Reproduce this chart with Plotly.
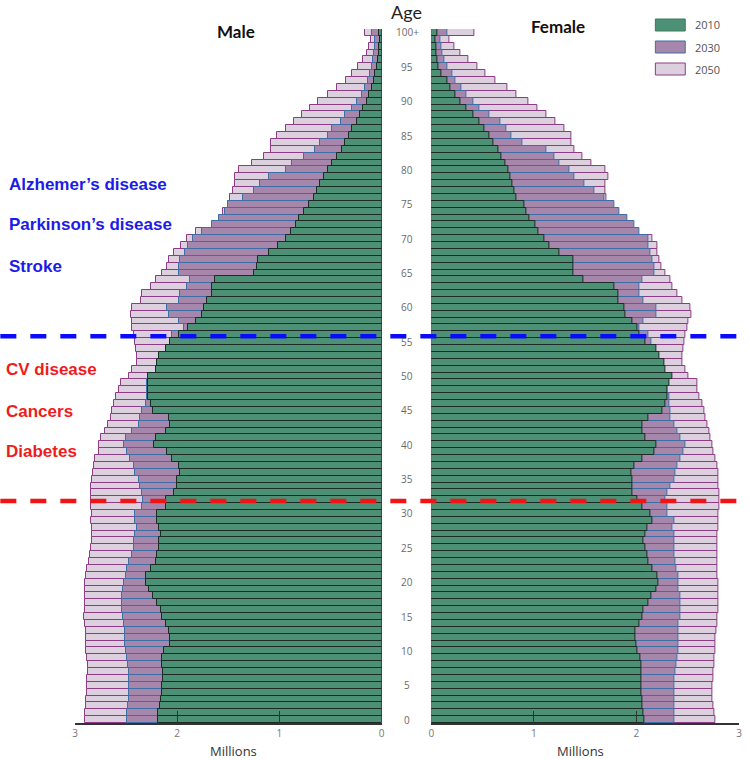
import plotly.graph_objects as go

# ages 0..100 (100 = "100+"), values in millions
ages = list(range(0, 101))

male_2010 = [2.19, 2.19, 2.17, 2.16, 2.15, 2.15, 2.14, 2.14, 2.15, 2.15,
             2.13, 2.07, 2.07, 2.08, 2.11, 2.15, 2.16, 2.20, 2.24, 2.28,
             2.31, 2.31, 2.26, 2.21, 2.20, 2.18, 2.18, 2.16, 2.18, 2.20,
             2.20, 2.11, 2.11, 2.03, 2.00, 2.00, 1.97, 1.98, 2.05, 2.10,
             2.23, 2.21, 2.11, 2.07, 2.08, 2.24, 2.26, 2.29, 2.29, 2.29,
             2.29, 2.21, 2.20, 2.18, 2.11, 2.07, 1.98, 1.89, 1.82, 1.76,
             1.74, 1.71, 1.66, 1.66, 1.63, 1.25, 1.22, 1.21, 1.10, 1.01,
             0.94, 0.89, 0.84, 0.81, 0.76, 0.71, 0.66, 0.63, 0.60, 0.56,
             0.52, 0.49, 0.44, 0.39, 0.36, 0.32, 0.29, 0.24, 0.21, 0.18,
             0.14, 0.12, 0.09, 0.07, 0.06, 0.05, 0.04, 0.03, 0.03, 0.02,
             0.03]
male_2030 = [2.49, 2.49, 2.48, 2.47, 2.47, 2.47, 2.47, 2.47, 2.48, 2.49,
             2.50, 2.51, 2.51, 2.51, 2.52, 2.53, 2.54, 2.54, 2.54, 2.53,
             2.52, 2.50, 2.49, 2.47, 2.44, 2.42, 2.42, 2.41, 2.39, 2.41,
             2.41, 2.34, 2.33, 2.34, 2.36, 2.37, 2.41, 2.42, 2.46, 2.49,
             2.52, 2.50, 2.44, 2.37, 2.36, 2.34, 2.31, 2.30, 2.30, 2.30,
             2.25, 2.18, 2.15, 2.12, 2.06, 2.02, 2.05, 1.93, 1.98, 2.08,
             2.10, 1.98, 1.97, 1.90, 1.87, 1.98, 1.98, 1.97, 1.92, 1.89,
             1.85, 1.76, 1.66, 1.59, 1.53, 1.50, 1.36, 1.25, 1.19, 1.10,
             0.94, 0.88, 0.76, 0.65, 0.60, 0.52, 0.49, 0.40, 0.36, 0.29,
             0.24, 0.19, 0.16, 0.13, 0.11, 0.09, 0.08, 0.07, 0.06, 0.06,
             0.09]
male_2050 = [2.90, 2.90, 2.89, 2.89, 2.88, 2.88, 2.88, 2.87, 2.87, 2.88,
             2.89, 2.89, 2.89, 2.89, 2.90, 2.91, 2.90, 2.90, 2.90, 2.90,
             2.90, 2.89, 2.88, 2.86, 2.85, 2.84, 2.83, 2.83, 2.83, 2.84,
             2.83, 2.84, 2.84, 2.84, 2.84, 2.83, 2.82, 2.81, 2.80, 2.77,
             2.77, 2.75, 2.71, 2.68, 2.65, 2.64, 2.62, 2.60, 2.57, 2.55,
             2.47, 2.44, 2.39, 2.39, 2.40, 2.41, 2.42, 2.44, 2.44, 2.45,
             2.44, 2.35, 2.34, 2.26, 2.21, 2.15, 2.10, 2.08, 2.03, 1.96,
             1.90, 1.82, 1.64, 1.57, 1.55, 1.50, 1.48, 1.45, 1.43, 1.43,
             1.40, 1.27, 1.15, 1.08, 1.08, 1.02, 0.94, 0.86, 0.78, 0.70,
             0.62, 0.52, 0.44, 0.35, 0.29, 0.23, 0.18, 0.14, 0.12, 0.10,
             0.16]

female_2010 = [2.08, 2.07, 2.06, 2.06, 2.05, 2.05, 2.05, 2.05, 2.05, 2.04,
               2.01, 2.00, 1.99, 1.99, 2.03, 2.06, 2.07, 2.12, 2.15, 2.19,
               2.21, 2.20, 2.16, 2.12, 2.11, 2.09, 2.07, 2.09, 2.11, 2.16,
               2.14, 2.06, 2.01, 1.96, 1.96, 1.96, 1.95, 1.98, 2.06, 2.17,
               2.19, 2.09, 2.06, 2.06, 2.12, 2.25, 2.28, 2.30, 2.30, 2.32,
               2.35, 2.28, 2.27, 2.22, 2.19, 2.09, 2.03, 2.01, 1.96, 1.89,
               1.88, 1.82, 1.82, 1.78, 1.48, 1.38, 1.38, 1.38, 1.25, 1.15,
               1.10, 1.04, 1.01, 0.96, 0.93, 0.91, 0.83, 0.81, 0.79, 0.77,
               0.75, 0.72, 0.68, 0.65, 0.60, 0.57, 0.52, 0.47, 0.41, 0.34,
               0.285, 0.23, 0.19, 0.155, 0.10, 0.07, 0.06, 0.05, 0.045, 0.04,
               0.06]
female_2030 = [2.37, 2.37, 2.37, 2.37, 2.37, 2.37, 2.37, 2.38, 2.39, 2.40,
               2.41, 2.41, 2.41, 2.41, 2.41, 2.43, 2.43, 2.43, 2.43, 2.41,
               2.41, 2.41, 2.39, 2.38, 2.37, 2.37, 2.37, 2.37, 2.35, 2.37,
               2.30, 2.30, 2.28, 2.30, 2.33, 2.37, 2.38, 2.40, 2.43, 2.46,
               2.48, 2.43, 2.40, 2.37, 2.33, 2.33, 2.32, 2.32, 2.30, 2.30,
               2.28, 2.24, 2.22, 2.20, 2.17, 2.15, 2.12, 2.03, 2.07, 2.19,
               2.19, 2.07, 2.03, 2.03, 2.06, 2.17, 2.17, 2.16, 2.14, 2.12,
               2.12, 2.03, 1.98, 1.91, 1.83, 1.78, 1.69, 1.59, 1.49, 1.39,
               1.35, 1.25, 1.20, 1.12, 0.89, 0.78, 0.73, 0.67, 0.57, 0.47,
               0.41, 0.34, 0.29, 0.236, 0.20, 0.155, 0.126, 0.107, 0.095, 0.084,
               0.155]
female_2050 = [2.77, 2.76, 2.75, 2.74, 2.74, 2.74, 2.75, 2.75, 2.76, 2.76,
               2.77, 2.77, 2.77, 2.78, 2.79, 2.79, 2.80, 2.80, 2.80, 2.80,
               2.80, 2.79, 2.79, 2.79, 2.79, 2.79, 2.79, 2.79, 2.80, 2.80,
               2.80, 2.81, 2.81, 2.81, 2.80, 2.80, 2.80, 2.79, 2.77, 2.75,
               2.74, 2.72, 2.71, 2.69, 2.67, 2.66, 2.64, 2.61, 2.59, 2.59,
               2.51, 2.48, 2.45, 2.45, 2.46, 2.47, 2.48, 2.50, 2.51, 2.54,
               2.53, 2.45, 2.40, 2.35, 2.33, 2.28, 2.24, 2.22, 2.20, 2.20,
               2.16, 1.98, 1.93, 1.86, 1.80, 1.75, 1.71, 1.70, 1.70, 1.73,
               1.70, 1.56, 1.47, 1.39, 1.37, 1.37, 1.30, 1.21, 1.12, 1.03,
               0.95, 0.83, 0.74, 0.625, 0.53, 0.447, 0.36, 0.285, 0.22, 0.175,
               0.42]

years = ["2010", "2030", "2050"]
age_tick_vals = list(range(0, 101, 5))
age_tick_text = [str(a) for a in range(0, 100, 5)] + ["100+"]
x_ticks = [0, 1, 2, 3]

blue_diseases = ["Alzhemer\u2019s disease", "Parkinson\u2019s disease", "Stroke"]
blue_ages = [77.8, 72.0, 66.0]
red_diseases = ["CV disease", "Cancers", "Diabetes"]
red_ages = [50.9, 44.9, 39.0]
blue_cut = 55.8
red_cut = 31.8

FILL = {"2010": "#4c9075", "2030": "#a687ab", "2050": "#ddd0de"}
EDGE = {"2010": "#1d2b25", "2030": "#3d6fa6", "2050": "#8c3c84"}

# plot area in pixels (page is 750 x 760)
W, H = 750, 760
ML, MR, MT, MB = 75, 8, 29, 37
PW, PH = W - ML - MR, H - MT - MB


def px(x):
    return (x - ML) / PW


def py(y):
    return (H - MB - y) / PH


fig = go.Figure()

male = {"2010": male_2010, "2030": male_2030, "2050": male_2050}
female = {"2010": female_2010, "2030": female_2030, "2050": female_2050}

# back to front: 2050, 2030, 2010
for yr in ["2050", "2030", "2010"]:
    for data, xa in [(male[yr], "x"), (female[yr], "x2")]:
        fig.add_trace(go.Bar(
            x=data, y=ages, orientation="h", xaxis=xa, yaxis="y",
            marker=dict(color=FILL[yr], line=dict(color=EDGE[yr], width=1)),
            name=yr, showlegend=False, hoverinfo="x+y",
        ))

tick_font = dict(family="Open Sans", size=10, color="#777777")
axis_common = dict(tickvals=x_ticks, ticks="inside", ticklen=12, tickwidth=1.2,
                   tickcolor="#333333", showline=True, linecolor="#333333",
                   linewidth=1.5, showgrid=False, zeroline=False,
                   tickfont=tick_font)
fig.update_layout(
    width=W, height=H,
    margin=dict(l=ML, r=MR, t=MT, b=MB),
    paper_bgcolor="white", plot_bgcolor="white",
    barmode="overlay", bargap=0,
    showlegend=False,
    xaxis=dict(domain=[0, px(383)], range=[3, 0], anchor="y", **axis_common),
    xaxis2=dict(domain=[px(433), 1], range=[0, 3], anchor="y", **axis_common),
    yaxis=dict(range=[-0.5, 100.5], showticklabels=False, showgrid=False,
               zeroline=False, showline=False, ticks=""),
)


def paper_text(x, y, text, font, xanchor="center"):
    return dict(x=px(x), y=py(y), xref="paper", yref="paper", text=text,
                showarrow=False, xanchor=xanchor, yanchor="middle", font=font)


ann = []
# age labels in the middle column
for v, t in zip(age_tick_vals, age_tick_text):
    ann.append(dict(x=px(409), xref="paper", y=v, yref="y", text=t,
                    showarrow=False, xanchor="center", yanchor="middle",
                    font=dict(family="Open Sans", size=10, color="#6a6a6a")))

ann.append(paper_text(408, 12, "Age", dict(family="Lato", size=18, color="#222222")))
ann.append(paper_text(237, 32, "<b>Male</b>", dict(family="Lato", size=17, color="#111111")))
ann.append(paper_text(560, 26, "<b>Female</b>", dict(family="Lato", size=17, color="#111111")))
for xc in [234, 583]:
    ann.append(paper_text(xc, 751, "Millions",
                          dict(family="Open Sans", size=13, color="#333333")))

for t, a in zip(blue_diseases, blue_ages):
    ann.append(dict(x=px(7), xref="paper", y=a, yref="y", text="<b>" + t + "</b>",
                    showarrow=False, xanchor="left", yanchor="middle",
                    font=dict(family="Liberation Sans", size=17, color="#1c1ce6")))
for t, a in zip(red_diseases, red_ages):
    ann.append(dict(x=px(4), xref="paper", y=a, yref="y", text="<b>" + t + "</b>",
                    showarrow=False, xanchor="left", yanchor="middle",
                    font=dict(family="Liberation Sans", size=17, color="#ee1c1c")))

# custom key (wide swatches like the original)
shapes = []
for i, yr in enumerate(years):
    top = 19 + i * 22
    shapes.append(dict(type="rect", xref="paper", yref="paper",
                       x0=px(658), x1=px(688), y0=py(top + 12), y1=py(top),
                       fillcolor=FILL[yr],
                       line=dict(color=EDGE[yr] if yr != "2010" else "#3a7a5e", width=1)))
    ann.append(paper_text(696, top + 6, yr,
                          dict(family="Open Sans", size=11, color="#555555"),
                          xanchor="left"))

# dashed cut-off lines across the whole figure
for yv, col in [(blue_cut, "#0a0aff"), (red_cut, "#f01414")]:
    shapes.append(dict(type="line", xref="paper", yref="y",
                       x0=px(0), x1=px(750), y0=yv, y1=yv,
                       line=dict(color=col, width=4.5, dash="16px,14px")))

fig.update_layout(annotations=ann, shapes=shapes)

fig.write_html("out.html", config={"displayModeBar": False},
               post_script="document.body.style.margin='0px';")
